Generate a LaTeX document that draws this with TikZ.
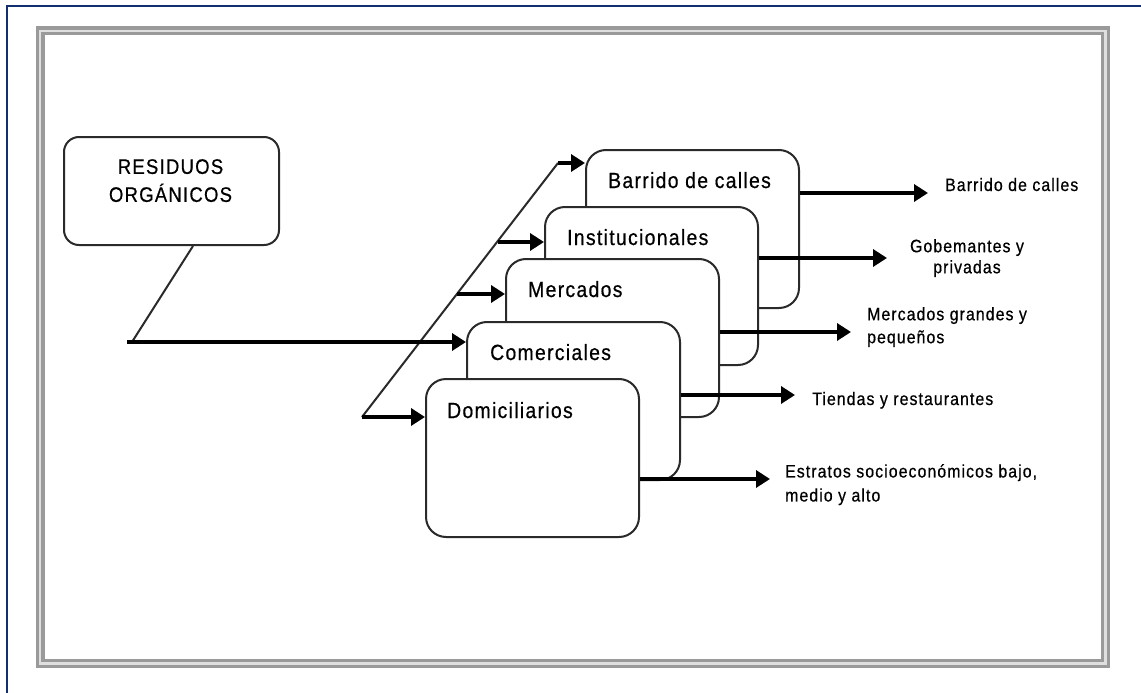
\documentclass[tikz,border=0pt]{standalone}
\usepackage{fontspec}
\setmainfont{Liberation Sans}[FakeStretch=0.88,LetterSpace=6,FakeBold=0.6]
\usetikzlibrary{calc,arrows.meta,positioning}
\definecolor{navyx}{HTML}{12306F}
\definecolor{framex}{HTML}{9A9A9A}
\definecolor{linex}{HTML}{2A2A2A}
\tikzset{
  ar/.style={-{Triangle[length=14pt,width=17pt]},line width=3.4pt,black},
  link/.style={line width=2pt,linex},
  box/.style={draw=linex,line width=2pt,rounded corners=20pt,fill=white,minimum width=213pt,minimum height=158pt,inner sep=0pt,anchor=north west},
  resbox/.style={draw=linex,line width=2pt,rounded corners=15pt,fill=white,minimum width=215pt,minimum height=108pt,inner sep=0pt,anchor=north west},
  boxlbl/.style={anchor=base west,inner sep=0pt,font=\fontsize{22}{26}\selectfont},
  outlbl/.style={inner sep=0pt,font=\fontsize{18}{22}\selectfont}
}

\begin{document}
\begin{tikzpicture}[x=1pt,y=-1pt]
\useasboundingbox (0,0) rectangle (1141,693);
% frames
\draw[navyx,line width=2pt] (6.5,693) -- (6.5,6.5) -- (1141,6.5);
\draw[framex,line width=9pt] (40,31) rectangle (1105.5,663.5);
\draw[gray!25,line width=2.5pt] (40,31) rectangle (1105.5,663.5);

% source
\node[resbox] (res) at (63,136) {};
\node[inner sep=0pt,anchor=north,align=center,font=\fontsize{21}{28}\selectfont] (restxt) at (170.5,159) {RESIDUOS\\ORGÁNICOS};

% stacked boxes, back to front
\node[box] (bar) at (585,149) {};
\node[boxlbl] (barlbl) at ($(bar.north west)+(23,39)$) {Barrido de calles};
\node[box] (inst) at (544,206) {};
\node[boxlbl] (instlbl) at ($(inst.north west)+(23,39)$) {Institucionales};
\node[box] (merc) at (505,258) {};
\node[boxlbl] (merclbl) at ($(merc.north west)+(23,39)$) {Mercados};
\node[box] (com) at (466,321) {};
\node[boxlbl] (comlbl) at ($(com.north west)+(24,39)$) {Comerciales};
\node[box] (dom) at (425,378) {};
\node[boxlbl] (domlbl) at ($(dom.north west)+(22,40)$) {Domiciliarios};

% feeds
\coordinate (kink) at (132,342);
\coordinate (jdom) at (362,417);
\coordinate (jmer) at (457,294);
\coordinate (jins) at (498,242);
\coordinate (jbar) at (558,163);
\draw[link] ([xshift=21.5pt]res.south) -- (kink);
\draw[link] (jdom) -- (jbar);
\draw[ar] ([xshift=-5pt]kink) -- (kink -| com.west);
\draw[ar] (jdom) -- (jdom -| dom.west);
\draw[ar] (jmer) -- (jmer -| merc.west);
\draw[ar] (jins) -- (jins -| inst.west);
\draw[ar] (jbar) -- (jbar -| bar.west);

% outputs
\coordinate (tbar) at (928,193);
\coordinate (tins) at (887,258);
\coordinate (tmer) at (851,332);
\coordinate (tcom) at (795,395);
\coordinate (tdom) at (770,479);
\draw[ar] (tbar -| bar.east) -- (tbar);
\draw[ar] (tins -| inst.east) -- (tins);
\draw[ar] (tmer -| merc.east) -- (tmer);
\draw[ar] (tcom -| com.east) -- (tcom);
\draw[ar] (tdom -| dom.east) -- (tdom);
\node[outlbl,anchor=base west] (obar) at (945,191) {Barrido de calles};
\node[outlbl,anchor=north,align=center,font=\fontsize{18}{21}\selectfont] (oins) at (967,239) {Gobemantes y\\privadas};
\node[outlbl,anchor=north west,align=left,font=\fontsize{18}{23}\selectfont] (omer) at (867,307) {Mercados grandes y\\pequeños};
\node[outlbl,anchor=base west] (ocom) at (812,405) {Tiendas y restaurantes};
\node[outlbl,anchor=north west,align=left,font=\fontsize{18}{24}\selectfont] (odom) at (785,464) {Estratos socioeconómicos bajo,\\medio y alto};
\end{tikzpicture}
\end{document}
